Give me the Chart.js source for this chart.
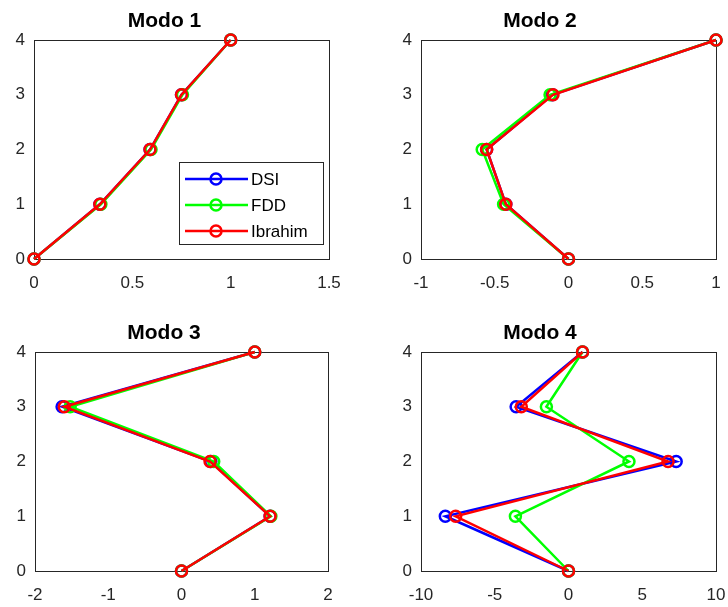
<!DOCTYPE html>
<html>
<head>
<meta charset="utf-8">
<script src="https://cdn.jsdelivr.net/npm/chart.js@4.4.1/dist/chart.umd.min.js"></script>
<style>
  html, body { margin: 0; padding: 0; background: #fff; }
  #figure { position: relative; width: 728px; height: 607px; }
  #figure canvas { position: absolute; }
</style>
</head>
<body>
<div id="figure">
  <canvas id="modo1" width="364" height="300" style="left:0;top:0"></canvas>
  <canvas id="modo2" width="364" height="300" style="left:364px;top:0"></canvas>
  <canvas id="modo3" width="364" height="307" style="left:0;top:300px"></canvas>
  <canvas id="modo4" width="364" height="307" style="left:364px;top:300px"></canvas>
</div>
<script>
// floor levels (y) shared by every mode shape
const floors = [0, 1, 2, 3, 4];
const floorTicks = [0, 1, 2, 3, 4];

const seriesNames = ['DSI', 'FDD', 'Ibrahim'];
const seriesColors = ['#0000ff', '#00ff00', '#ff0000'];

// Modo 1
const mode1Dsi = [0, 0.335, 0.59, 0.75, 1.0];
const mode1Fdd = [0, 0.34, 0.595, 0.755, 1.0];
const mode1Ibrahim = [0, 0.335, 0.59, 0.75, 1.0];
const mode1Ticks = [0, 0.5, 1, 1.5];

// Modo 2
const mode2Dsi = [0, -0.425, -0.555, -0.11, 1.0];
const mode2Fdd = [0, -0.44, -0.585, -0.125, 1.0];
const mode2Ibrahim = [0, -0.425, -0.555, -0.105, 1.0];
const mode2Ticks = [-1, -0.5, 0, 0.5, 1];

// Modo 3
const mode3Dsi = [0, 1.21, 0.4, -1.63, 1.0];
const mode3Fdd = [0, 1.22, 0.44, -1.52, 1.0];
const mode3Ibrahim = [0, 1.21, 0.39, -1.6, 1.0];
const mode3Ticks = [-2, -1, 0, 1, 2];

// Modo 4
const mode4Dsi = [0, -8.35, 7.3, -3.55, 0.95];
const mode4Fdd = [0, -3.6, 4.1, -1.5, 0.95];
const mode4Ibrahim = [0, -7.65, 6.75, -3.2, 0.95];
const mode4Ticks = [-10, -5, 0, 5, 10];

Chart.defaults.font.family = '"Liberation Sans", Arial, sans-serif';
Chart.defaults.animation = false;

const axisColor = '#262626';

// closed box around the plot area, drawn under the lines
const axesBox = {
  id: 'axesBox',
  beforeDatasetsDraw(chart) {
    const a = chart.chartArea;
    const ctx = chart.ctx;
    ctx.save();
    ctx.strokeStyle = axisColor;
    ctx.lineWidth = 1;
    ctx.strokeRect(Math.round(a.left) + 0.5, Math.round(a.top) + 0.5,
      Math.round(a.right - a.left), Math.round(a.bottom - a.top));
    ctx.restore();
  }
};

// legend inside the plot area, line + open circle samples
const boxLegend = {
  id: 'boxLegend',
  afterDatasetsDraw(chart, args, opts) {
    if (!opts.display) return;
    const a = chart.chartArea;
    const ctx = chart.ctx;
    const w = 144, h = 82;
    const left = Math.round(a.right - 6 - w);
    const top = Math.round(a.bottom - 15 - h);
    ctx.save();
    ctx.fillStyle = '#fff';
    ctx.fillRect(left, top, w, h);
    ctx.strokeStyle = axisColor;
    ctx.lineWidth = 1;
    ctx.strokeRect(left + 0.5, top + 0.5, w, h);
    ctx.font = '17px "Liberation Sans", Arial, sans-serif';
    ctx.textBaseline = 'middle';
    chart.data.datasets.forEach((ds, i) => {
      const y = top + 17 + i * 26;
      ctx.strokeStyle = ds.borderColor;
      ctx.lineWidth = ds.borderWidth;
      ctx.beginPath();
      ctx.moveTo(left + 6, y);
      ctx.lineTo(left + 69, y);
      ctx.stroke();
      ctx.lineWidth = ds.pointBorderWidth;
      ctx.beginPath();
      ctx.arc(left + 37, y, ds.pointRadius, 0, Math.PI * 2);
      ctx.stroke();
      ctx.fillStyle = '#000';
      ctx.fillText(ds.label, left + 72, y + 1);
    });
    ctx.restore();
  }
};

function makeChart(id, title, xTicks, dsi, fdd, ibrahim, frame, withLegend) {
  const datasets = [dsi, fdd, ibrahim].map((xs, i) => ({
    label: seriesNames[i],
    data: xs.map((x, k) => ({ x: x, y: floors[k] })),
    showLine: true,
    borderColor: seriesColors[i],
    backgroundColor: seriesColors[i],
    pointBorderColor: seriesColors[i],
    pointBackgroundColor: 'rgba(0,0,0,0)',
    borderWidth: 2.5,
    pointRadius: 5.5,
    pointBorderWidth: 2.5,
    order: 3 - i,
    clip: false
  }));

  return new Chart(document.getElementById(id), {
    type: 'scatter',
    data: { datasets: datasets },
    plugins: [axesBox, boxLegend],
    options: {
      responsive: false,
      devicePixelRatio: 1,
      layout: { padding: { left: 0, right: frame.right, top: 0, bottom: 0 } },
      plugins: {
        legend: { display: false },
        tooltip: { enabled: false },
        title: {
          display: true,
          text: title,
          color: '#000',
          font: { size: 21, weight: 'bold' },
          padding: { top: frame.titleTop, bottom: frame.titleBottom }
        },
        boxLegend: { display: withLegend }
      },
      scales: {
        x: {
          type: 'linear',
          min: xTicks[0],
          max: xTicks[xTicks.length - 1],
          grid: { display: false, drawTicks: false },
          border: { display: false },
          ticks: { color: axisColor, font: { size: 17 }, padding: 14, callback: v => String(v) },
          afterBuildTicks: s => { s.ticks = xTicks.map(v => ({ value: v })); },
          afterFit: s => {
            s.height = frame.xHeight;
            s.paddingLeft = 0;
            s.paddingRight = 0;
          }
        },
        y: {
          type: 'linear',
          min: floorTicks[0],
          max: floorTicks[floorTicks.length - 1],
          grid: { display: false, drawTicks: false },
          border: { display: false },
          ticks: { color: axisColor, font: { size: 17 }, padding: 9, callback: v => String(v) },
          afterBuildTicks: s => { s.ticks = floorTicks.map(v => ({ value: v })); },
          afterFit: s => {
            s.width = frame.yWidth;
            s.paddingTop = 0;
            s.paddingBottom = 0;
          }
        }
      }
    }
  });
}

const topLeft = { yWidth: 34, right: 35, titleTop: 8.9, titleBottom: 5.9, xHeight: 41 };
const topRight = { yWidth: 57, right: 12, titleTop: 8.9, titleBottom: 5.9, xHeight: 41 };
const bottomLeft = { yWidth: 35, right: 36, titleTop: 20.4, titleBottom: 6.4, xHeight: 36 };
const bottomRight = { yWidth: 57, right: 12, titleTop: 20.4, titleBottom: 6.4, xHeight: 36 };

makeChart('modo1', 'Modo 1', mode1Ticks, mode1Dsi, mode1Fdd, mode1Ibrahim, topLeft, true);
makeChart('modo2', 'Modo 2', mode2Ticks, mode2Dsi, mode2Fdd, mode2Ibrahim, topRight, false);
makeChart('modo3', 'Modo 3', mode3Ticks, mode3Dsi, mode3Fdd, mode3Ibrahim, bottomLeft, false);
makeChart('modo4', 'Modo 4', mode4Ticks, mode4Dsi, mode4Fdd, mode4Ibrahim, bottomRight, false);
</script>
</body>
</html>
